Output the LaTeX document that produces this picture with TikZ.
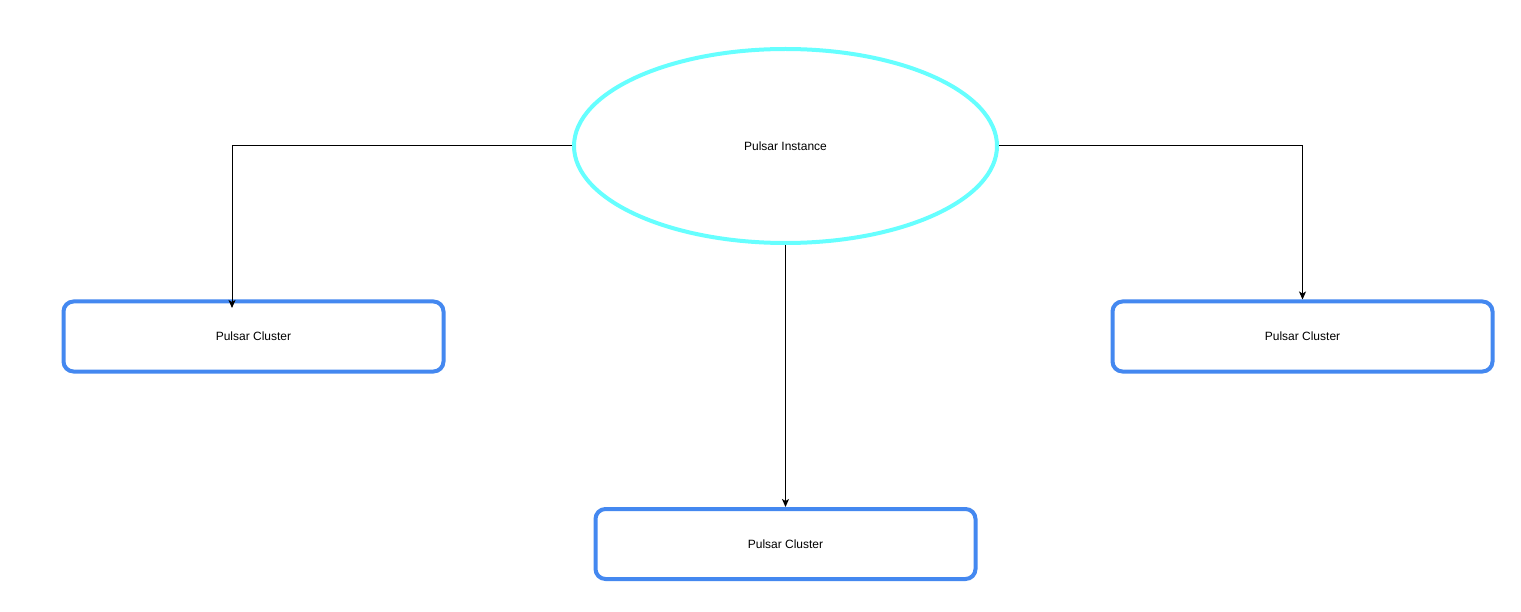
\documentclass[tikz,border=0pt]{standalone}
\usepackage{fontspec}
\setmainfont{Liberation Sans}
\usetikzlibrary{shapes.geometric,arrows.meta}
\definecolor{cyanline}{HTML}{66FFFF}
\definecolor{blueline}{HTML}{4488F0}
\tikzset{
  clusterbox/.style={draw=blueline, line width=4pt, rounded corners=10pt, fill=white,
    minimum width=380pt, minimum height=70pt, inner sep=0pt, font=\fontsize{12pt}{14pt}\selectfont},
  instance/.style={draw=cyanline, line width=4pt, ellipse, fill=white,
    minimum width=423pt, minimum height=194pt, inner sep=0pt, font=\fontsize{12pt}{14pt}\selectfont},
  conn/.style={draw=black, line width=1pt, -{Stealth[length=8pt,width=7pt,inset=2pt]}}
}
\begin{document}
\begin{tikzpicture}[x=1pt,y=-1pt]
\useasboundingbox[fill=white] (0,0) rectangle (1521,612);
\node[instance] (inst) at (785.5,146) {Pulsar Instance};
\node[clusterbox] (lc) at (253.5,336.5) {Pulsar Cluster};
\node[clusterbox] (rc) at (1302.5,336.5) {Pulsar Cluster};
\node[clusterbox] (bc) at (785.5,544) {Pulsar Cluster};
\coordinate (lctip) at (232,308);
\draw[conn] (inst.west) -| (lctip);
\draw[conn] (inst.east) -| (rc.north);
\draw[conn] (inst.south) -- (bc.north);
\end{tikzpicture}
\end{document}
